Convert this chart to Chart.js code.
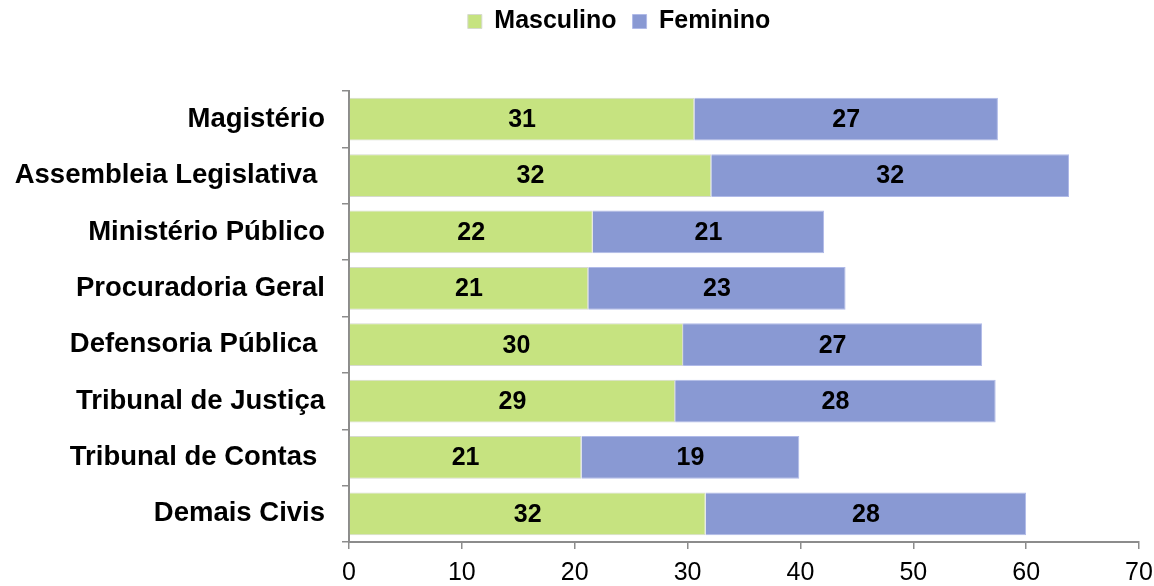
<!DOCTYPE html>
<html>
<head>
<meta charset="utf-8">
<script src="https://cdn.jsdelivr.net/npm/chart.js@4/dist/chart.umd.min.js"></script>
<style>
  html, body { margin: 0; padding: 0; background: #fff; }
  #wrap { width: 1154px; height: 586px; }
</style>
</head>
<body>
<div id="wrap"><canvas id="grafico"></canvas></div>
<script>
// Datos del gráfico
const categorias = [
    'Magistério',
    'Assembleia Legislativa ',
    'Ministério Público',
    'Procuradoria Geral',
    'Defensoria Pública ',
    'Tribunal de Justiça',
    'Tribunal de Contas ',
    'Demais Civis'
];
const masculino = [30.6, 32.1, 21.6, 21.2, 29.6, 28.9, 20.6, 31.6];
const feminino = [26.9, 31.7, 20.5, 22.8, 26.5, 28.4, 19.3, 28.4];
const ticksX = [0, 10, 20, 30, 40, 50, 60, 70];

const fuente = "'Liberation Sans', Arial, sans-serif";
const gris = '#8c8c8c';

// Etiquetas dentro de las barras
const etiquetasBarras = {
    id: 'etiquetasBarras',
    afterDatasetsDraw(chart) {
        const ctx = chart.ctx;
        ctx.save();
        ctx.font = 'bold 25px ' + fuente;
        ctx.fillStyle = '#000';
        ctx.textAlign = 'center';
        ctx.textBaseline = 'middle';
        chart.data.datasets.forEach((ds, i) => {
            chart.getDatasetMeta(i).data.forEach((bar, j) => {
                const x = (bar.x + bar.base) / 2;
                ctx.fillText(Math.round(ds.data[j]), x, bar.y + 1);
            });
        });
        ctx.restore();
    }
};

// Espacio bajo la leyenda y desplazamiento horizontal
const margenLeyenda = {
    id: 'margenLeyenda',
    beforeInit(chart) {
        const fitOriginal = chart.legend.fit;
        chart.legend.fit = function () {
            fitOriginal.bind(chart.legend)();
            this.height += 47;
        };
    },
    afterLayout(chart) {
        chart.legend.left += 42;
        chart.legend.right += 42;
    }
};

new Chart(document.getElementById('grafico').getContext('2d'), {
    type: 'bar',
    data: {
        labels: categorias,
        datasets: [{
            label: 'Masculino',
            data: masculino,
            backgroundColor: 'rgb(198, 227, 128)',
            borderColor: 'rgb(214, 218, 206)',
            borderWidth: 1,
            barPercentage: 0.76,
            categoryPercentage: 1
        }, {
            label: 'Feminino',
            data: feminino,
            backgroundColor: 'rgb(137, 153, 211)',
            borderColor: 'rgb(176, 186, 232)',
            borderWidth: 1,
            barPercentage: 0.76,
            categoryPercentage: 1
        }]
    },
    options: {
        indexAxis: 'y',
        responsive: true,
        maintainAspectRatio: false,
        animation: false,
        layout: { padding: { top: -7, left: 0, right: 0, bottom: 0 } },
        scales: {
            x: {
                stacked: true,
                min: 0,
                max: 70,
                afterBuildTicks: (scale) => { scale.ticks = ticksX.map(v => ({ value: v })); },
                afterFit: (scale) => {
                    scale.height = 44;
                    scale.paddingRight = 15;
                },
                ticks: {
                    color: '#000',
                    font: { family: fuente, size: 25, lineHeight: 1 },
                    padding: 12,
                    maxRotation: 0
                },
                grid: {
                    drawOnChartArea: false,
                    drawTicks: true,
                    tickLength: 7,
                    color: gris,
                    lineWidth: 1.5
                },
                border: { color: gris, width: 2 }
            },
            y: {
                stacked: true,
                afterFit: (scale) => { scale.width = 349; },
                ticks: {
                    color: '#000',
                    font: { family: fuente, size: 27.5, weight: 'bold' },
                    padding: 17
                },
                grid: {
                    offset: true,
                    drawOnChartArea: false,
                    drawTicks: true,
                    tickLength: 7,
                    color: gris,
                    lineWidth: 1.5
                },
                border: { color: gris, width: 2 }
            }
        },
        plugins: {
            legend: {
                position: 'top',
                labels: {
                    color: '#000',
                    font: { family: fuente, size: 25, weight: 'bold' },
                    boxWidth: 14,
                    boxHeight: 14,
                    padding: 16
                }
            },
            tooltip: { enabled: false }
        }
    },
    plugins: [etiquetasBarras, margenLeyenda]
});
</script>
</body>
</html>
